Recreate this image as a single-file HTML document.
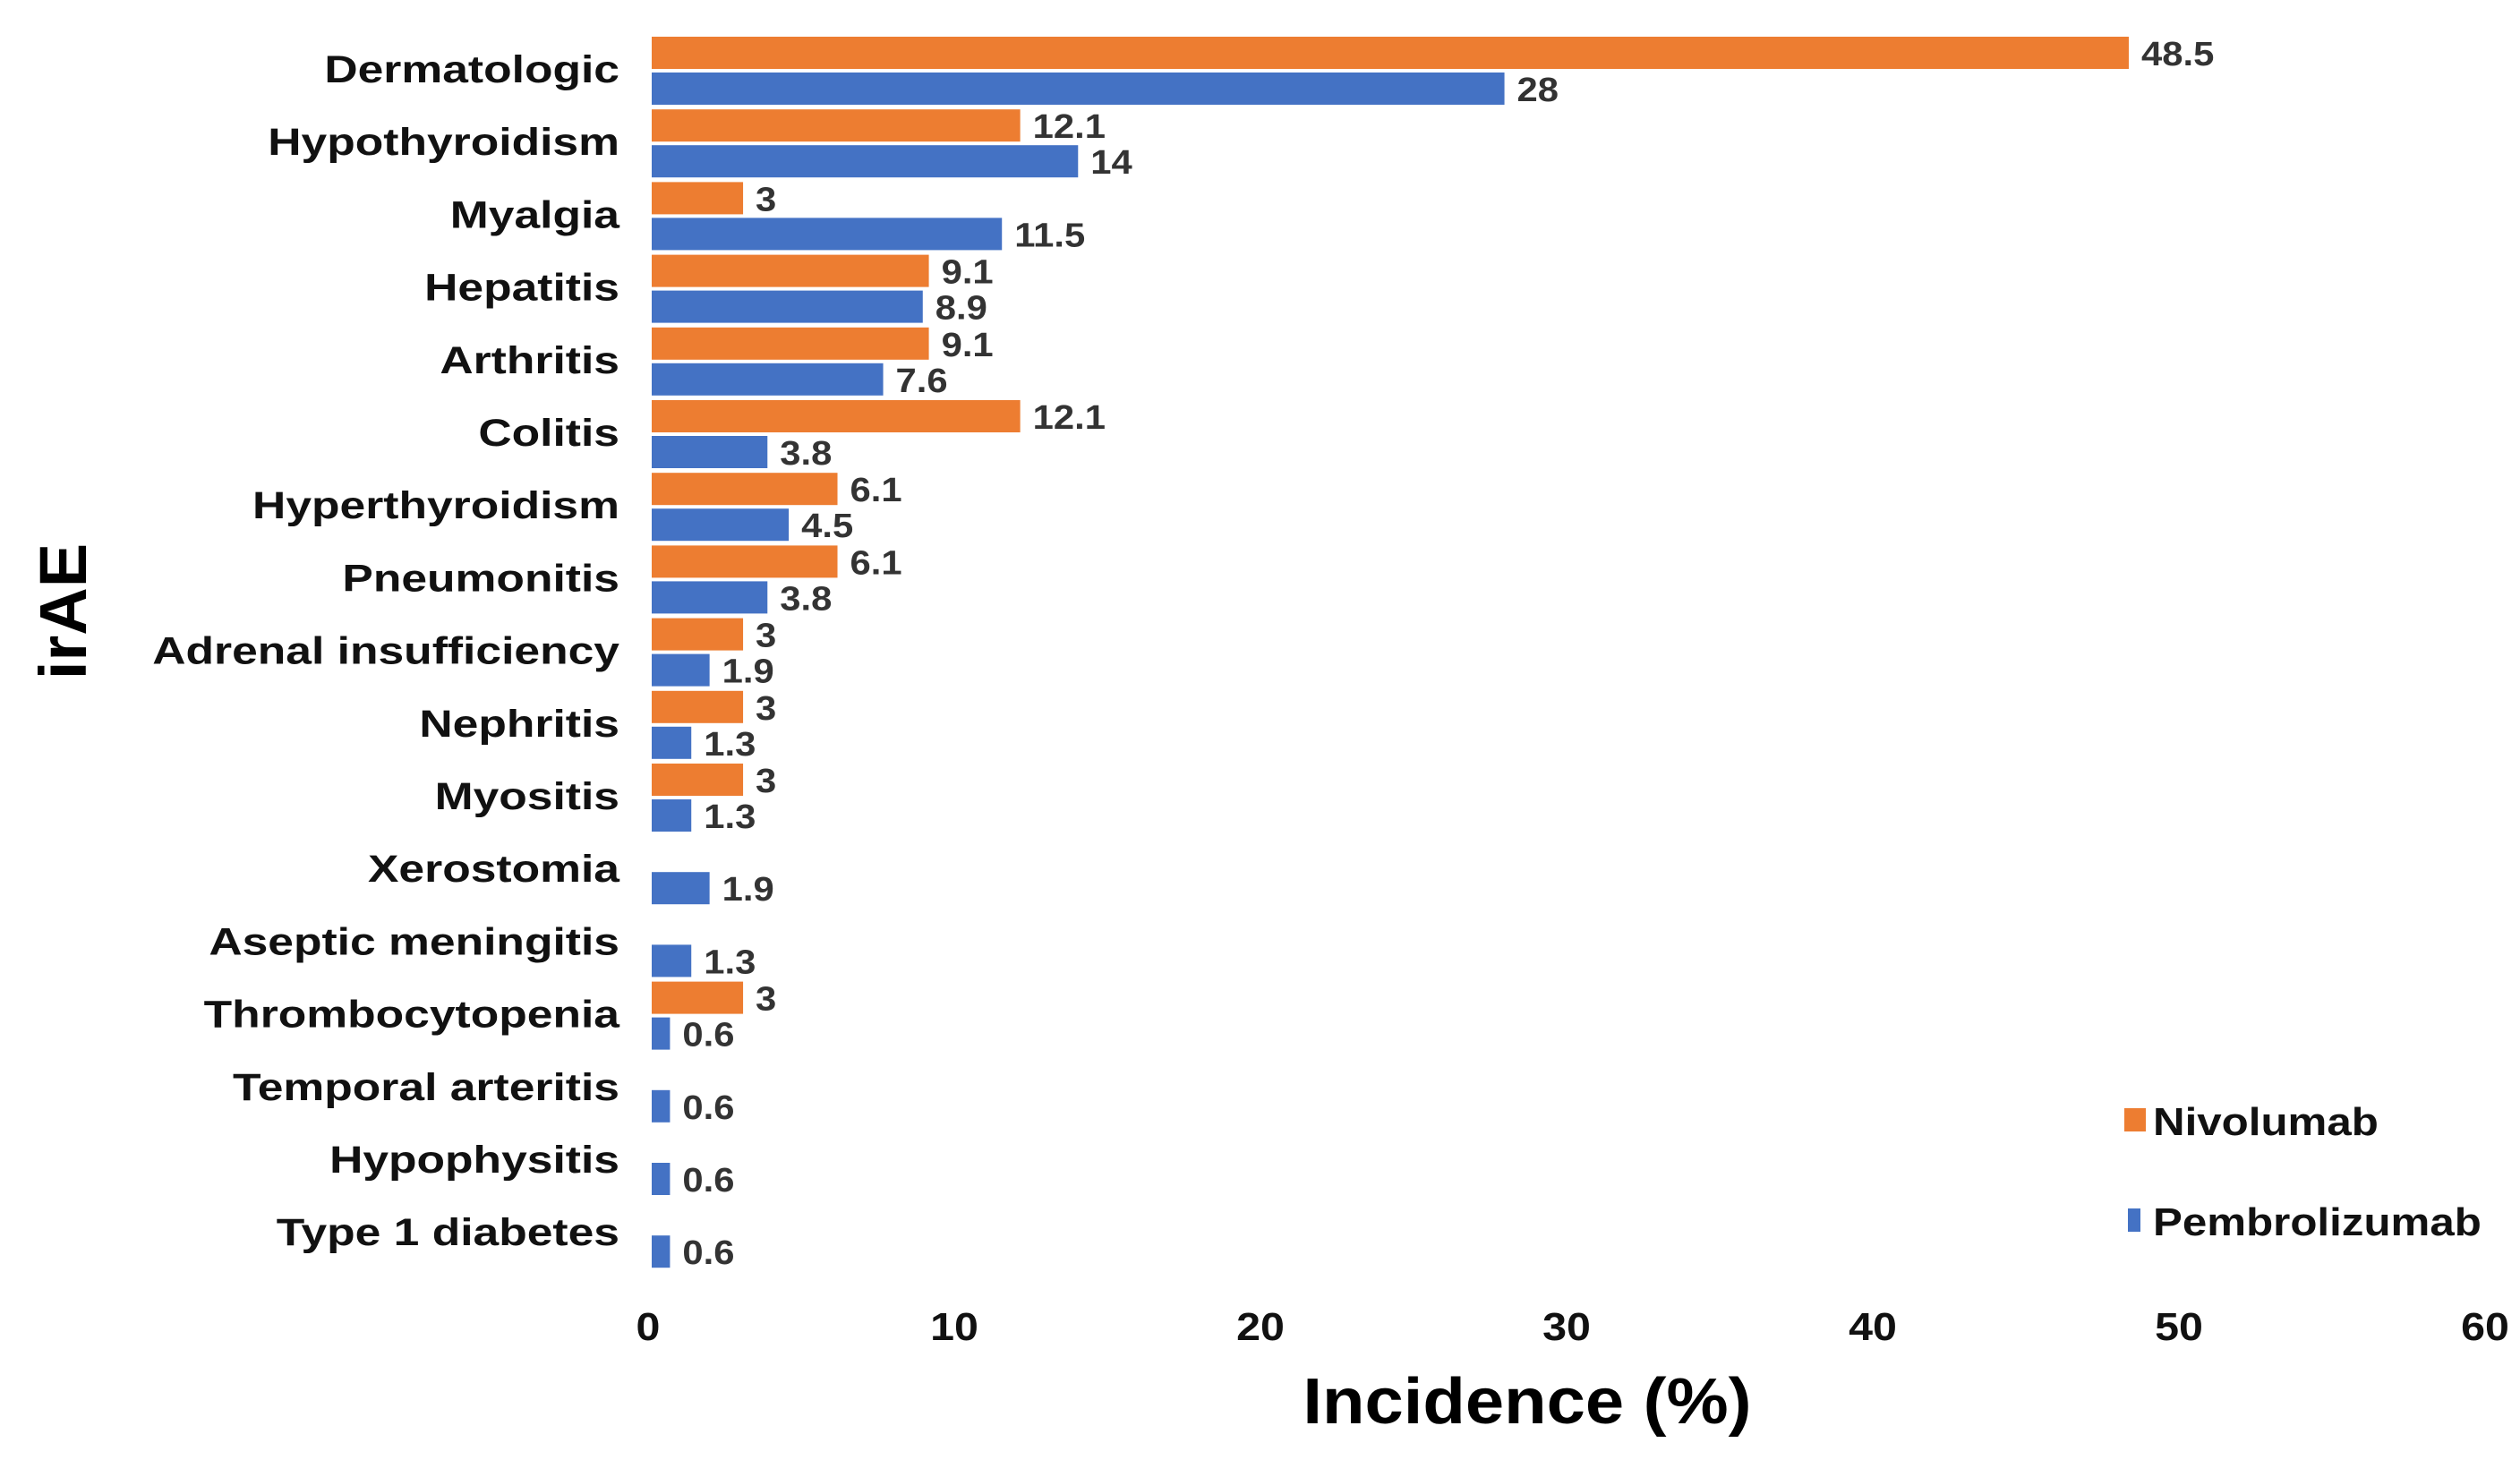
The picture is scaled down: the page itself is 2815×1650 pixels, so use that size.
<!DOCTYPE html>
<html><head><meta charset="utf-8"><style>
html,body{margin:0;padding:0;background:#fff;}
svg{display:block;font-family:"Liberation Sans",Arial,sans-serif;}
</style></head><body>
<svg id="chart" width="2815" height="1650" viewBox="0 0 2815 1650" xmlns="http://www.w3.org/2000/svg">
<g id="bars"></g>
<g id="ylabels"></g>
<g id="xticks"></g>
<text transform="translate(96,683) rotate(-90)" text-anchor="middle" font-size="74" font-weight="bold" fill="#000">irAE</text>
<text transform="translate(1706,1590) scale(1.08,1)" text-anchor="middle" font-size="72" font-weight="bold" fill="#000">Incidence (%)</text>
<g>
<rect x="2373" y="1238" width="24" height="26" fill="#ED7D31"/>
<text transform="translate(2405,1268) scale(1.12,1)" font-size="44" font-weight="bold" fill="#111">Nivolumab</text>
<rect x="2377" y="1350" width="14" height="26" fill="#4472C4"/>
<text transform="translate(2405,1380) scale(1.12,1)" font-size="44" font-weight="bold" fill="#111">Pembrolizumab</text>
</g>
</svg>
<script>
const categories = ["Dermatologic","Hypothyroidism","Myalgia","Hepatitis","Arthritis","Colitis","Hyperthyroidism","Pneumonitis","Adrenal insufficiency","Nephritis","Myositis","Xerostomia","Aseptic meningitis","Thrombocytopenia","Temporal arteritis","Hypophysitis","Type 1 diabetes"];
const nivolumab = [48.5,12.1,3,9.1,9.1,12.1,6.1,6.1,3,3,3,null,null,3,null,null,null];
const pembrolizumab = [28,14,11.5,8.9,7.6,3.8,4.5,3.8,1.9,1.3,1.3,1.9,1.3,0.6,0.6,0.6,0.6];
const xTicks = [0,10,20,30,40,50,60];

const NS = "http://www.w3.org/2000/svg";
const X0 = 728, PX = 34.02, Y0 = 79, PITCH = 81.2, BH = 36;
function xs(v){ return X0 + v*PX; }
function yc(i){ return Y0 + i*PITCH; }
function mk(tag, attrs){ const e=document.createElementNS(NS,tag); for(const k in attrs) e.setAttribute(k,attrs[k]); return e; }
const bars=document.getElementById('bars'), yl=document.getElementById('ylabels'), xt=document.getElementById('xticks');

categories.forEach((c,i)=>{
  const t=mk('text',{transform:'translate(692,'+(yc(i)+13)+') scale(1.2,1)','text-anchor':'end','font-size':43,'font-weight':'bold',fill:'#111'});
  
  
  t.textContent=c; yl.appendChild(t);
  const series=[[nivolumab[i],'#ED7D31',yc(i)-BH-2,'nivolumab'],[pembrolizumab[i],'#4472C4',yc(i)+2,'pembrolizumab']];
  series.forEach(s=>{
    if(s[0]===null||s[0]===undefined) return;
    const r=mk('rect',{x:X0,y:s[2],width:Math.max(1,xs(s[0])-X0),height:BH,fill:s[1]});
    
    
    bars.appendChild(r);
    const v=mk('text',{transform:'translate('+(xs(s[0])+14)+','+(s[2]+BH/2+14)+') scale(1.1,1)','font-size':38,'font-weight':'bold',fill:'#333'});
    
    
    v.textContent=String(s[0]); bars.appendChild(v);
  });
});
xTicks.forEach(v=>{
  const t=mk('text',{transform:'translate('+(X0-4+v*34.2)+',1497) scale(1.1,1)','text-anchor':'middle','font-size':44,'font-weight':'bold',fill:'#111'});
  
  
  t.textContent=v; xt.appendChild(t);
});
</script>
</body></html>
